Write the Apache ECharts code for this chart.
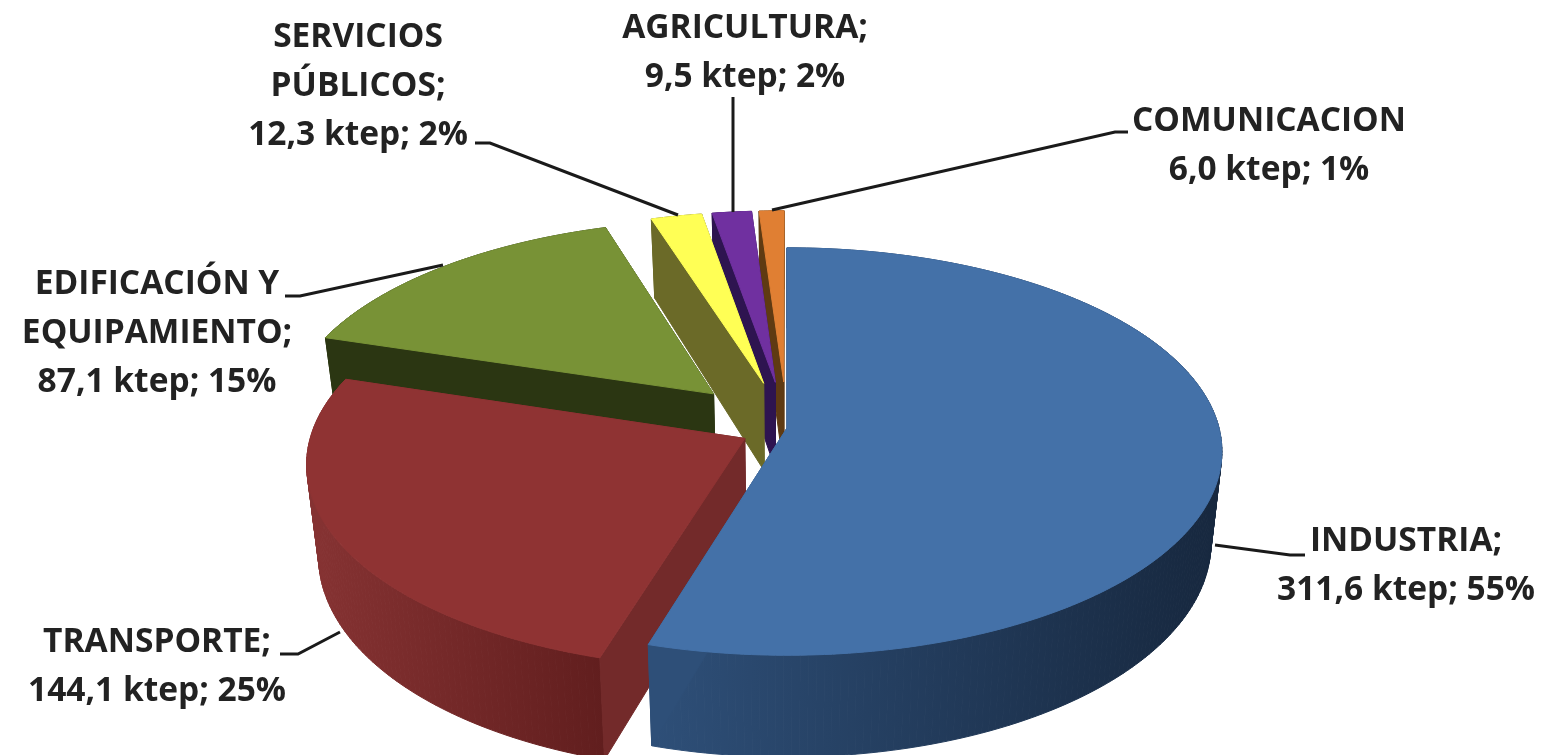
<!DOCTYPE html>
<html><head><meta charset="utf-8">
<style>html,body{margin:0;padding:0;background:#fff}#c{width:1559px;height:755px}</style>
<script src="https://cdn.jsdelivr.net/npm/echarts@6/dist/echarts.min.js"></script>
</head><body><div id="c"></div>
<script>
const sectors = ['INDUSTRIA', 'TRANSPORTE', 'EDIFICACIÓN Y\nEQUIPAMIENTO', 'SERVICIOS\nPÚBLICOS', 'AGRICULTURA', 'COMUNICACION'];
const values = [311.6, 144.1, 87.1, 12.3, 9.5, 6.0];
const topColors = ['#4471A8', '#8F3333', '#789236', '#FFFF55', '#7030A0', '#E07F33'];
const faceColors = ['#2E4F78', '#732A2A', '#2B3612', '#6B6A28', '#2E1450', '#5F3A12'];
const wallLeft = ['#2E4F78', '#853232', '#2B3612', '#6B6A28', '#2E1450', '#5F3A12'];
const wallRight = ['#17283F', '#611E1E', '#2B3612', '#6B6A28', '#2E1450', '#5F3A12'];
const explode = [0, 0.11, 0.245, 0.235, 0.235, 0.235];
const drawOrder = [5, 4, 3, 2, 1, 0];
const labelSep = [';', ';', ';', ';', ';', ''];
const labelAt = [[1406, 566], [157, 667], [157, 333], [358, 86], [745, 53], [1269, 146]];
const leaders = [
  [[1215, 545], [1290, 555], [1305, 555]],
  [[340, 632], [298, 654], [280, 654]],
  [[443, 265], [300, 296], [285, 296]],
  [[678, 215], [490, 143], [475, 143]],
  [[733, 212], [733, 97]],
  [[772, 210], [1115, 132], [1128, 132]]
];
const view = {cx: 787, cy: 428, rx: 432, ry: 201, p: 0.1155, depth: 90, shrink: 0.975};

const total = values.reduce((a, b) => a + b, 0);
const spans = [];
{
  let a = 0;
  values.forEach(v => { const s = v / total * Math.PI * 2; spans.push([a, a + s]); a += s; });
}
function project(u, v, low) {
  const k = 1 / (1 - view.p * v);
  let x = view.rx * u * k, y = view.cy + view.ry * v * k;
  if (low) { x *= view.shrink; y += view.depth * k; }
  return [view.cx + x, y];
}
function renderItem(params, api) {
  const i = api.value(0);
  const [a0, a1] = spans[i];
  const mid = (a0 + a1) / 2, e = explode[i];
  const ou = e * Math.sin(mid), ov = -e * Math.cos(mid);
  const rim = low => {
    const pts = [], n = Math.max(6, Math.ceil((a1 - a0) * 60));
    for (let j = 0; j <= n; j++) {
      const t = a0 + (a1 - a0) * j / n;
      pts.push(project(ou + Math.sin(t), ov - Math.cos(t), low));
    }
    return pts;
  };
  const top = rim(false), bot = rim(true);
  const aT = project(ou, ov, false), aB = project(ou, ov, true);
  const poly = (points, fill) => ({type: 'polygon', shape: {points}, style: {fill, stroke: fill, lineWidth: 1}});
  const xs = bot.map(p => p[0]);
  const wallFill = new echarts.graphic.LinearGradient(Math.min(...xs), 0, Math.max(...xs), 0, [
    {offset: 0, color: wallLeft[i]}, {offset: 1, color: wallRight[i]}], true);
  const children = [];
  const idx = top.slice(1).map((_, j) => j).sort((m, n) => top[m][1] - top[n][1]);
  idx.forEach(j => children.push(poly([top[j], top[j + 1], bot[j + 1], bot[j]], wallFill)));
  children.push(poly([aT, top[top.length - 1], bot[bot.length - 1], aB], faceColors[i]));
  children.push(poly([aT, top[0], bot[0], aB], faceColors[i]));
  children.push(poly([aT].concat(top), topColors[i]));
  children.push({type: 'polyline', z2: 50, shape: {points: leaders[i]}, style: {stroke: '#1a1a1a', lineWidth: 3, fill: null}});
  children.push({type: 'text', z2: 60, x: labelAt[i][0], y: labelAt[i][1], style: {
    text: sectors[i] + labelSep[i] + '\n' + values[i].toFixed(1).replace('.', ',') + ' ktep; ' + Math.round(values[i] / total * 100) + '%',
    font: 'bold 33.5px "Open Sans"', lineHeight: 49, align: 'center', verticalAlign: 'middle', fill: '#222'}});
  return {type: 'group', children};
}
const chart = echarts.init(document.getElementById('c'), null, {renderer: 'canvas'});
chart.setOption({
  animation: false,
  backgroundColor: '#fff',
  series: [{type: 'custom', coordinateSystem: 'none', renderItem, data: drawOrder.map(i => [i, values[i]]), clip: false}]
});
</script></body></html>
